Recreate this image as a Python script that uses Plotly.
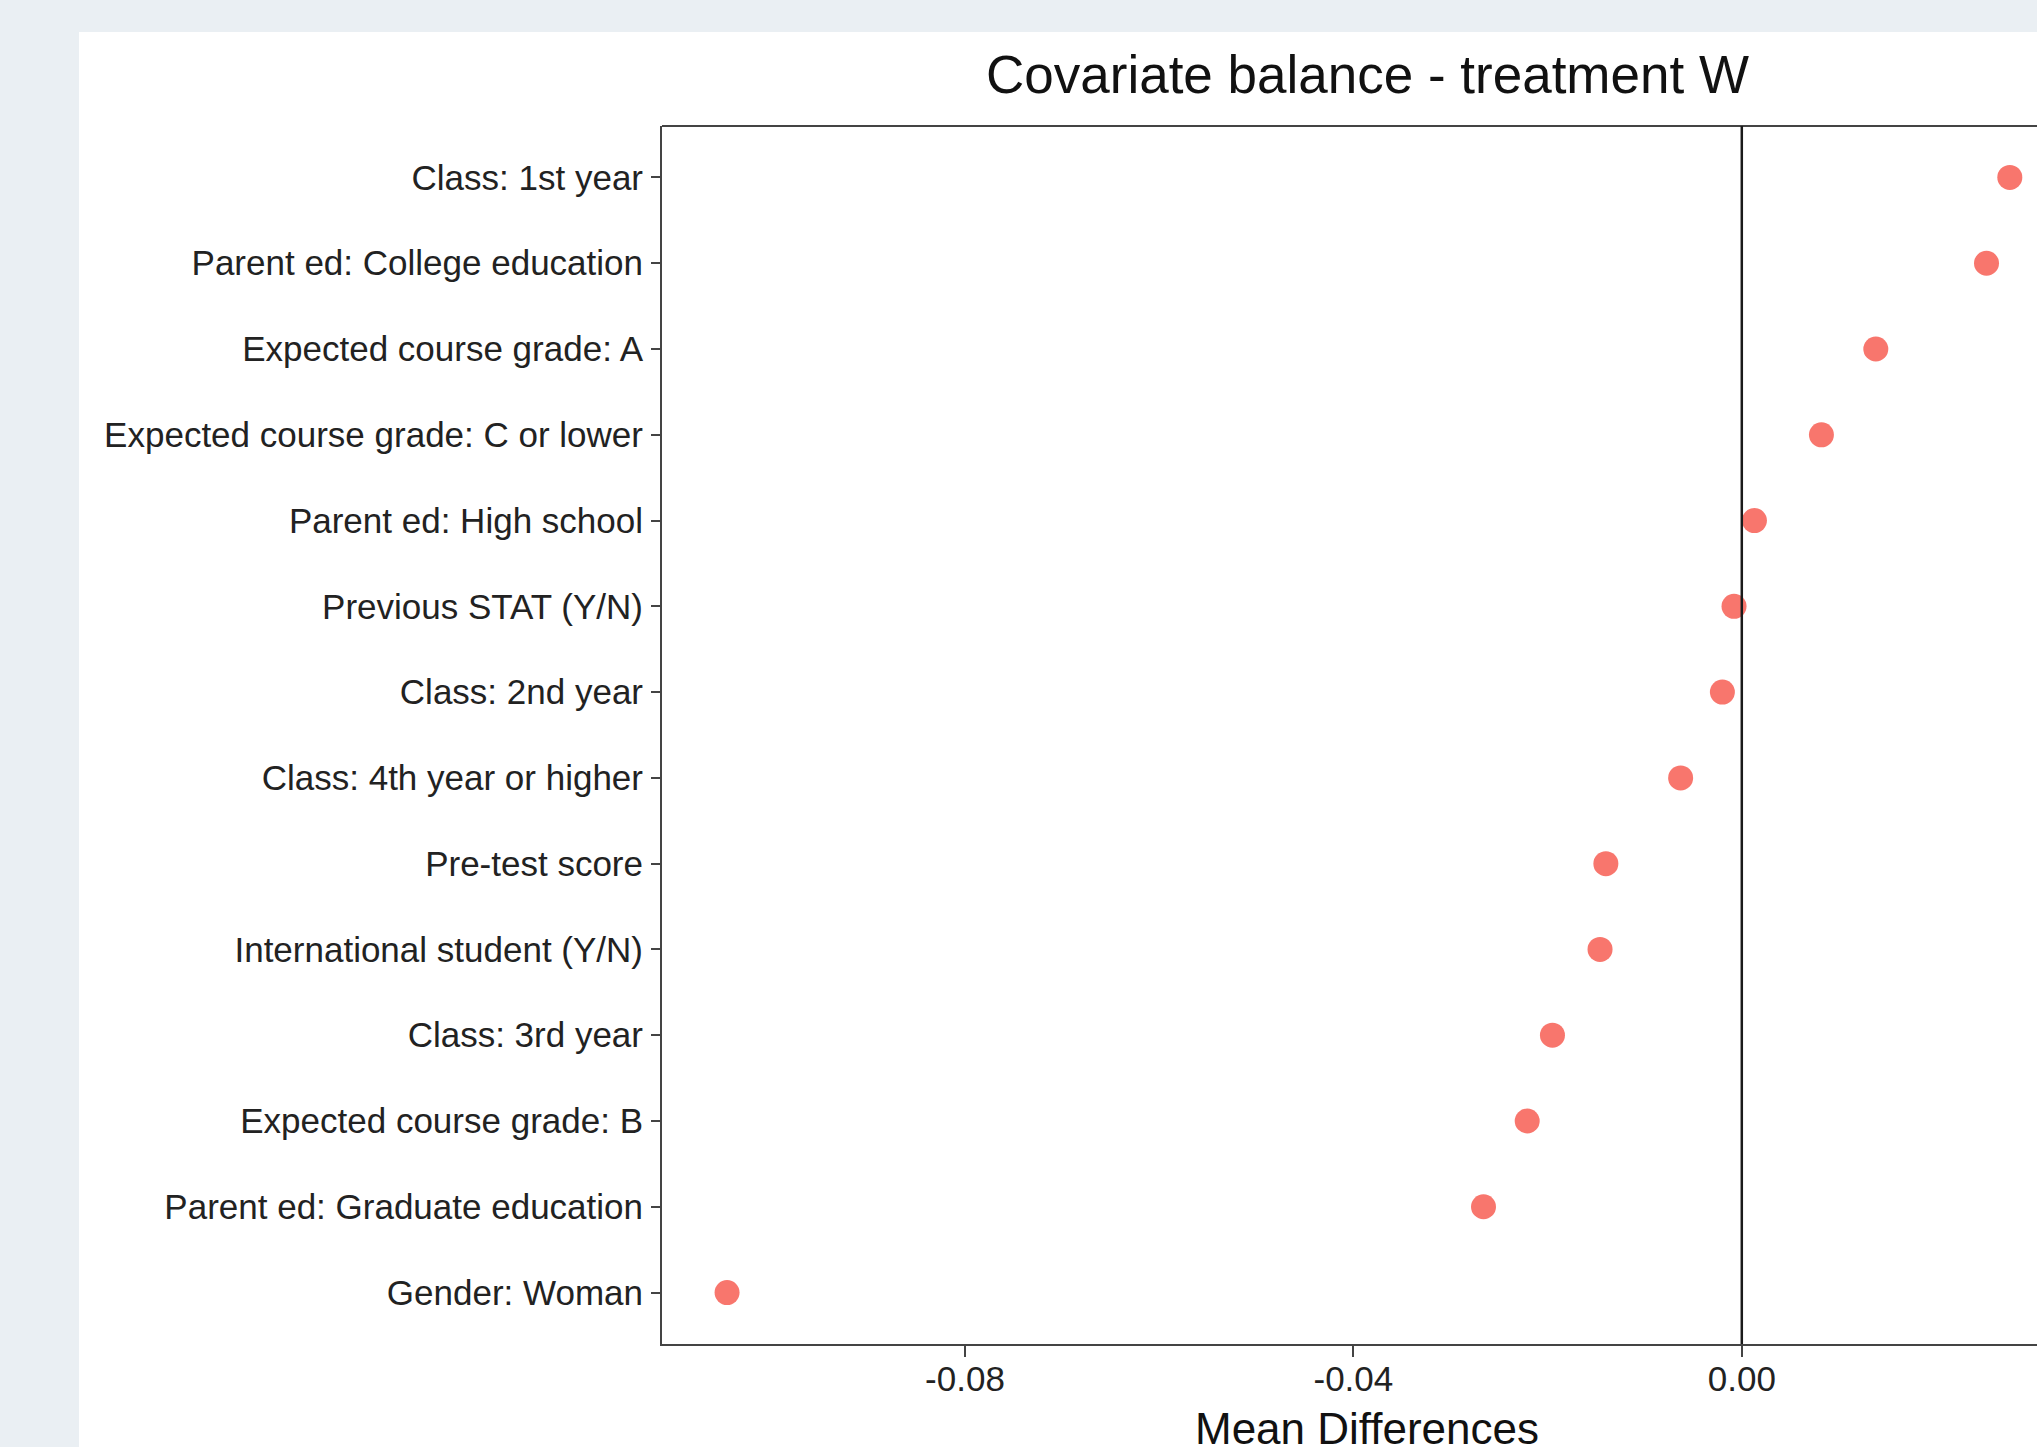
import plotly.graph_objects as go

# ---- data (top to bottom as shown) ----
covariates = [
    "Class: 1st year",
    "Parent ed: College education",
    "Expected course grade: A",
    "Expected course grade: C or lower",
    "Parent ed: High school",
    "Previous STAT (Y/N)",
    "Class: 2nd year",
    "Class: 4th year or higher",
    "Pre-test score",
    "International student (Y/N)",
    "Class: 3rd year",
    "Expected course grade: B",
    "Parent ed: Graduate education",
    "Gender: Woman",
]
mean_diff = [0.0276, 0.0252, 0.0138, 0.0082, 0.0013, -0.0008, -0.0020,
             -0.0063, -0.0140, -0.0146, -0.0195, -0.0221, -0.0266, -0.1045]
x_tick_vals = [-0.08, -0.04, 0.00]
x_tick_text = ["-0.08", "-0.04", "0.00"]
title_text = "Covariate balance - treatment W"
x_title = "Mean Differences"

W, H = 2037, 1447
L, T, B = 662, 126, 103
plot_w = W - L
plot_h = H - T - B

FONT = "Liberation Sans, Arial, Helvetica, sans-serif"
BORDER = "#444444"
TEXT = "#222222"

fig = go.Figure()
fig.add_trace(go.Scatter(
    x=mean_diff, y=covariates, mode="markers",
    marker=dict(color="#F8766D", size=25, line=dict(width=0)),
    showlegend=False, cliponaxis=False,
))

order_bottom_up = covariates[::-1]

def px_x(p):
    return (p - L) / plot_w

def px_y(p):
    return (H - B - p) / plot_h

fig.update_layout(
    width=W, height=H,
    margin=dict(l=L, r=0, t=T, b=B, pad=0),
    paper_bgcolor="#EAEFF3",
    plot_bgcolor="rgba(0,0,0,0)",
    font=dict(family=FONT, color=TEXT),
    xaxis=dict(
        range=[-0.1112, 0.0304],
        tickvals=x_tick_vals, ticktext=x_tick_text,
        showgrid=False, zeroline=False,
        showline=True, linecolor=BORDER, linewidth=2,
        ticks="outside", ticklen=11, tickwidth=2, tickcolor=BORDER,
        tickfont=dict(size=35, color=TEXT, family=FONT),
        ticklabelstandoff=-8,
    ),
    yaxis=dict(
        type="category", categoryorder="array", categoryarray=order_bottom_up,
        range=[-0.6, len(covariates) - 0.4],
        showgrid=False, zeroline=False,
        showline=True, linecolor=BORDER, linewidth=2,
        ticks="outside", ticklen=9, tickwidth=2, tickcolor=BORDER,
        tickfont=dict(size=35, color=TEXT, family=FONT),
        ticklabelstandoff=1,
    ),
    shapes=[
        # white panel background
        dict(type="rect", xref="paper", yref="paper", layer="below",
             x0=px_x(79), x1=1.2, y0=-0.3, y1=px_y(32),
             fillcolor="white", line=dict(width=0)),
        # top border
        dict(type="line", xref="paper", yref="paper",
             x0=0, x1=1.2, y0=1, y1=1, line=dict(color=BORDER, width=2)),
        # zero reference line
        dict(type="line", xref="x", yref="paper",
             x0=0, x1=0, y0=0, y1=1, line=dict(color="#1a1a1a", width=2.5)),
    ],
    annotations=[
        dict(text=title_text, xref="paper", yref="paper",
             x=px_x(1367), y=px_y(74), xanchor="center", yanchor="middle",
             showarrow=False, font=dict(size=53, color="#111111", family=FONT)),
        dict(text=x_title, xref="paper", yref="paper",
             x=px_x(1367), y=px_y(1428), xanchor="center", yanchor="middle",
             showarrow=False, font=dict(size=44, color="#111111", family=FONT)),
    ],
)

fig.write_html(
    "out.html",
    config={"displayModeBar": False},
    post_script="document.body.style.margin='0';document.body.style.padding='0';document.body.style.overflow='hidden';",
)
